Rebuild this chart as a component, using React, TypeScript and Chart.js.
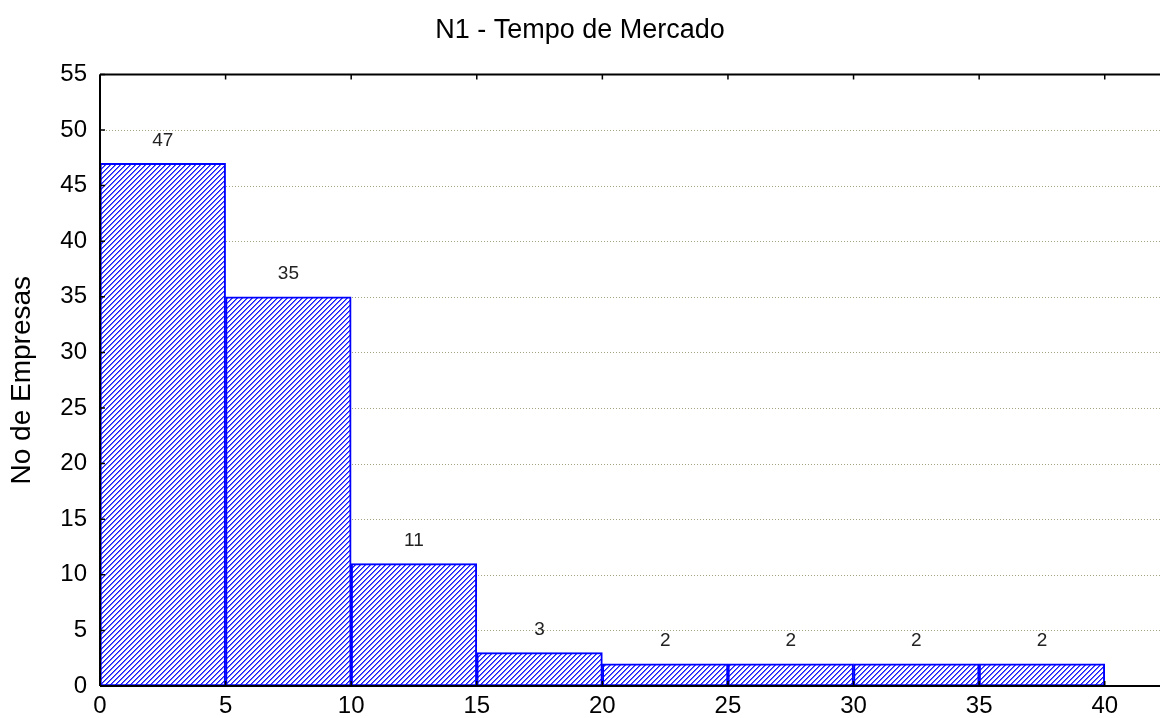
import React, { useEffect, useRef } from "react";
import { Chart, registerables } from "chart.js";

Chart.register(...registerables);

const binStarts = [0, 5, 10, 15, 20, 25, 30, 35];
const binWidth = 5;
const counts = [47, 35, 11, 3, 2, 2, 2, 2];
const chartTitle = "N1 - Tempo de Mercado";
const yTitle = "No de Empresas";
const xMin = 0;
const xMax = 42.2;
const yMin = 0;
const yMax = 55;
const tickStep = 5;

const FONT = "'Liberation Sans', Arial, sans-serif";

function makeHatch(): CanvasPattern | string {
  const n = 5;
  const c = document.createElement("canvas");
  c.width = n;
  c.height = n;
  const g = c.getContext("2d");
  if (!g) return "#8888ff";
  g.fillStyle = "#ffffff";
  g.fillRect(0, 0, n, n);
  for (let px = 0; px < n; px++) {
    for (let py = 0; py < n; py++) {
      const k = (px + py) % n;
      if (k === n - 1) {
        g.fillStyle = "#1a1aff";
        g.fillRect(px, py, 1, 1);
      } else if (k === 0) {
        g.fillStyle = "#6464ff";
        g.fillRect(px, py, 1, 1);
      }
    }
  }
  const p = g.createPattern(c, "repeat");
  return p || "#8888ff";
}

const framePlugin = {
  id: "frame",
  beforeDatasetsDraw(chart: any) {
    const { ctx, chartArea } = chart;
    const y = chart.scales.y;
    ctx.save();
    ctx.strokeStyle = "#a4a484";
    ctx.lineWidth = 1;
    ctx.setLineDash([1, 2]);
    y.ticks.forEach((t: any) => {
      if (t.value <= yMin || t.value >= yMax) return;
      const py = Math.round(y.getPixelForValue(t.value)) + 0.5;
      ctx.beginPath();
      ctx.moveTo(chartArea.left, py);
      ctx.lineTo(chartArea.right, py);
      ctx.stroke();
    });
    ctx.restore();
  },
  afterDatasetsDraw(chart: any) {
    const { ctx, chartArea } = chart;
    const x = chart.scales.x;
    const y = chart.scales.y;
    ctx.save();
    const meta = chart.getDatasetMeta(0);
    ctx.fillStyle = "#222222";
    ctx.font = `19px ${FONT}`;
    ctx.textAlign = "center";
    ctx.textBaseline = "middle";
    meta.data.forEach((el: any, i: number) => {
      ctx.fillText(String(counts[i]), el.x, el.y - 23);
    });
    ctx.strokeStyle = "#000000";
    ctx.lineWidth = 2;
    ctx.beginPath();
    ctx.moveTo(chartArea.left, chartArea.top);
    ctx.lineTo(chartArea.right, chartArea.top);
    ctx.moveTo(chartArea.left, chartArea.top);
    ctx.lineTo(chartArea.left, chartArea.bottom);
    ctx.moveTo(chartArea.left, chartArea.bottom);
    ctx.lineTo(chartArea.right, chartArea.bottom);
    ctx.stroke();
    ctx.lineWidth = 1.5;
    ctx.beginPath();
    y.ticks.forEach((t: any) => {
      const py = y.getPixelForValue(t.value);
      ctx.moveTo(chartArea.left, py);
      ctx.lineTo(chartArea.left + 5, py);
    });
    x.ticks.forEach((t: any) => {
      const px = x.getPixelForValue(t.value);
      ctx.moveTo(px, chartArea.top);
      ctx.lineTo(px, chartArea.top + 5);
      ctx.moveTo(px, chartArea.bottom);
      ctx.lineTo(px, chartArea.bottom - 5);
    });
    ctx.stroke();
    ctx.restore();
  },
};

export default function App() {
  const ref = useRef<HTMLCanvasElement | null>(null);
  useEffect(() => {
    document.body.style.margin = "0";
    const canvas = ref.current;
    if (!canvas) return;
    const hatch = makeHatch();
    const data = binStarts.map((s, i) => ({ x: s + binWidth / 2, y: counts[i] }));
    const chart = new Chart(canvas, {
      type: "bar",
      data: {
        datasets: [
          {
            data: data as any,
            backgroundColor: hatch as any,
            borderColor: "#0000ff",
            borderWidth: 2,
            borderSkipped: false,
            barPercentage: 1,
            categoryPercentage: 1,
          },
        ],
      },
      options: {
        animation: false,
        responsive: false,
        devicePixelRatio: 1,
        layout: { padding: 0 },
        plugins: {
          legend: { display: false },
          tooltip: { enabled: false },
          title: {
            display: true,
            text: chartTitle,
            color: "#000000",
            font: { family: FONT, size: 27, weight: "normal" },
            padding: { top: 14, bottom: 28 },
          },
        },
        scales: {
          x: {
            type: "linear",
            min: xMin,
            max: xMax,
            offset: false,
            grid: { display: false, drawTicks: false },
            border: { display: false },
            ticks: {
              stepSize: tickStep,
              includeBounds: false,
              color: "#000000",
              font: { family: FONT, size: 24 },
              padding: 6,
              maxRotation: 0,
            },
            afterFit(scale: any) {
              scale.height = 32;
            },
          },
          y: {
            type: "linear",
            min: yMin,
            max: yMax,
            grid: { display: false, drawTicks: false },
            border: { display: false },
            ticks: {
              stepSize: tickStep,
              color: "#000000",
              font: { family: FONT, size: 24 },
              padding: 13,
            },
            title: {
              display: true,
              text: yTitle,
              color: "#000000",
              font: { family: FONT, size: 28 },
              padding: { top: 5, bottom: 0 },
            },
            afterFit(scale: any) {
              scale.width = 100;
            },
          },
        },
      },
      plugins: [framePlugin],
    });
    return () => chart.destroy();
  }, []);
  return (
    <div style={{ position: "fixed", left: 0, top: 0, width: 1160, height: 718, background: "#ffffff" }}>
      <canvas ref={ref} width={1160} height={718} style={{ display: "block" }} />
    </div>
  );
}
